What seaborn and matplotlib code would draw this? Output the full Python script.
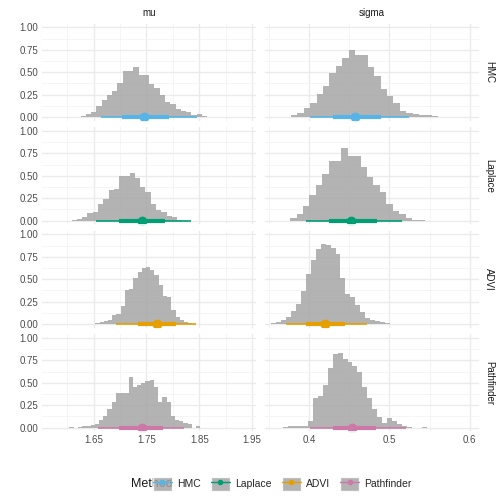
import numpy as np
import pandas as pd
import seaborn as sns
import matplotlib.pyplot as plt
from matplotlib.lines import Line2D
from matplotlib.patches import Patch
from matplotlib.ticker import MultipleLocator

methods = ['HMC', 'Laplace', 'ADVI', 'Pathfinder']
params = ['mu', 'sigma']
colors = {'HMC': '#56B4E9', 'Laplace': '#009E73', 'ADVI': '#E69F00', 'Pathfinder': '#CC79A7'}

# histogram bins: (first bin left edge, bin width, heights scaled to max 1)
hist_start = {
    ('HMC', 'mu'): 1.605, ('HMC', 'sigma'): 0.369,
    ('Laplace', 'mu'): 1.608, ('Laplace', 'sigma'): 0.376,
    ('ADVI', 'mu'): 1.637, ('ADVI', 'sigma'): 0.352,
    ('Pathfinder', 'mu'): 1.604, ('Pathfinder', 'sigma'): 0.367,
}
hist_width = {
    ('HMC', 'mu'): 0.01, ('HMC', 'sigma'): 0.008,
    ('Laplace', 'mu'): 0.01, ('Laplace', 'sigma'): 0.008,
    ('ADVI', 'mu'): 0.008, ('ADVI', 'sigma'): 0.0062,
    ('Pathfinder', 'mu'): 0.008, ('Pathfinder', 'sigma'): 0.0062,
}
hist_heights = {
    ('HMC', 'mu'): [0.005, 0.005, 0.01, 0.03, 0.06, 0.12, 0.19, 0.25, 0.29, 0.38, 0.51, 0.51, 0.56,
                    0.47, 0.47, 0.37, 0.33, 0.25, 0.17, 0.15, 0.09, 0.07, 0.06, 0.02, 0.03, 0.01, 0.005],
    ('HMC', 'sigma'): [0.005, 0.02, 0.04, 0.10, 0.16, 0.26, 0.35, 0.49, 0.57, 0.66, 0.75, 0.69, 0.69,
                       0.56, 0.46, 0.31, 0.24, 0.16, 0.07, 0.05, 0.03, 0.02, 0.02, 0.01],
    ('Laplace', 'mu'): [0.01, 0.02, 0.04, 0.08, 0.10, 0.18, 0.24, 0.34, 0.35, 0.50, 0.50, 0.53, 0.48,
                        0.38, 0.32, 0.18, 0.12, 0.09, 0.05, 0.04, 0.01],
    ('Laplace', 'sigma'): [0.03, 0.07, 0.16, 0.29, 0.40, 0.52, 0.67, 0.67, 0.81, 0.72, 0.72, 0.60, 0.49,
                           0.40, 0.32, 0.18, 0.11, 0.07, 0.03, 0.01, 0.01],
    ('ADVI', 'mu'): [0.005, 0.0, 0.01, 0.02, 0.03, 0.04, 0.10, 0.11, 0.20, 0.38, 0.39, 0.51, 0.58, 0.63,
                     0.64, 0.60, 0.55, 0.44, 0.31, 0.30, 0.16, 0.08, 0.04, 0.02, 0.01, 0.005],
    ('ADVI', 'sigma'): [0.01, 0.02, 0.04, 0.08, 0.14, 0.22, 0.37, 0.56, 0.72, 0.84, 0.89, 0.88, 0.85,
                        0.78, 0.51, 0.34, 0.30, 0.21, 0.13, 0.07, 0.04, 0.03, 0.02, 0.01],
    ('Pathfinder', 'mu'): [0.01, 0.0, 0.01, 0.02, 0.02, 0.03, 0.04, 0.08, 0.13, 0.21, 0.29, 0.38, 0.39,
                           0.39, 0.56, 0.45, 0.47, 0.50, 0.52, 0.53, 0.45, 0.28, 0.34, 0.29, 0.13, 0.08,
                           0.07, 0.05, 0.04, 0.0, 0.02],
    ('Pathfinder', 'sigma'): [0.01, 0.02, 0.02, 0.02, 0.02, 0.07, 0.33, 0.35, 0.47, 0.66, 0.82, 0.83,
                              0.77, 0.73, 0.69, 0.62, 0.45, 0.33, 0.21, 0.12, 0.05, 0.11, 0.07, 0.04,
                              0.02, 0.01, 0.0, 0.0, 0.005],
}

# point estimate, 50% and 95% intervals
point = {('HMC', 'mu'): 1.745, ('HMC', 'sigma'): 0.457, ('Laplace', 'mu'): 1.741, ('Laplace', 'sigma'): 0.452,
         ('ADVI', 'mu'): 1.769, ('ADVI', 'sigma'): 0.419, ('Pathfinder', 'mu'): 1.741, ('Pathfinder', 'sigma'): 0.453}
inner = {('HMC', 'mu'): (1.704, 1.793), ('HMC', 'sigma'): (0.429, 0.489),
         ('Laplace', 'mu'): (1.698, 1.786), ('Laplace', 'sigma'): (0.424, 0.484),
         ('ADVI', 'mu'): (1.733, 1.805), ('ADVI', 'sigma'): (0.396, 0.444),
         ('Pathfinder', 'mu'): (1.698, 1.781), ('Pathfinder', 'sigma'): (0.429, 0.483)}
outer = {('HMC', 'mu'): (1.663, 1.846), ('HMC', 'sigma'): (0.401, 0.524),
         ('Laplace', 'mu'): (1.654, 1.835), ('Laplace', 'sigma'): (0.396, 0.516),
         ('ADVI', 'mu'): (1.693, 1.843), ('ADVI', 'sigma'): (0.371, 0.472),
         ('Pathfinder', 'mu'): (1.659, 1.822), ('Pathfinder', 'sigma'): (0.401, 0.520)}

sns.set_theme(style='whitegrid', rc={'grid.color': '#ebebeb', 'axes.edgecolor': 'white'})
plt.rcParams['font.family'] = ['Liberation Sans', 'DejaVu Sans']

fig, axes = plt.subplots(4, 2, figsize=(5.04, 5.04), dpi=100, sharex='col', sharey=True)
fig.subplots_adjust(left=41/504, right=480/504, top=1-23/504, bottom=1-432/504, wspace=0.03, hspace=0.05)

for i, m in enumerate(methods):
    for j, p in enumerate(params):
        ax = axes[i, j]
        key = (m, p)
        h = np.array(hist_heights[key], dtype=float)
        edges = hist_start[key] + hist_width[key] * np.arange(len(h) + 1)
        df = pd.DataFrame({'x': (edges[:-1] + edges[1:]) / 2, 'w': h})
        sns.histplot(data=df, x='x', weights='w', bins=list(edges), ax=ax, color='#a6a6a6',
                     alpha=0.85, edgecolor='none', linewidth=0)
        c = colors[m]
        ax.plot(outer[key], [0, 0], color=c, lw=1.2, solid_capstyle='butt')
        ax.plot(inner[key], [0, 0], color=c, lw=3, solid_capstyle='butt')
        ax.plot([point[key]], [0], 'o', color=c, ms=6)
        ax.set_ylim(-0.05, 1.05)
        ax.set_yticks([0, 0.25, 0.5, 0.75, 1.0])
        ax.set_yticklabels(['0.00', '0.25', '0.50', '0.75', '1.00'])
        ax.yaxis.set_minor_locator(MultipleLocator(0.125))
        ax.set_ylabel('')
        ax.set_xlabel('')
        ax.grid(which='minor', color='#f2f2f2', lw=0.5)
        ax.grid(which='major', color='#ebebeb', lw=1)
        ax.tick_params(labelsize=7, colors='#4d4d4d', length=0, pad=2)
        if i == 0:
            ax.set_title(p, fontsize=7, color='#1a1a1a', pad=5)
        if j == 1:
            ax.text(1.02, 0.5, m, transform=ax.transAxes, rotation=-90, fontsize=7,
                    color='#1a1a1a', va='center', ha='left')

axes[0, 0].set_xlim(1.55, 1.96)
axes[0, 0].set_xticks([1.65, 1.75, 1.85, 1.95])
axes[0, 0].set_xticklabels(['1.65', '1.75', '1.85', '1.95'])
axes[0, 0].xaxis.set_minor_locator(MultipleLocator(0.05))
axes[0, 1].set_xlim(0.343, 0.613)
axes[0, 1].set_xticks([0.4, 0.5, 0.6])
axes[0, 1].set_xticklabels(['0.4', '0.5', '0.6'])
axes[0, 1].xaxis.set_minor_locator(MultipleLocator(0.05))

handles = [(Patch(facecolor='#a6a6a6', alpha=0.85),
            Line2D([], [], color=colors[m], marker='o', ms=3, lw=1)) for m in methods]
fig.legend(handles, methods, loc='center', bbox_to_anchor=(0.56, 1 - 484/504), ncol=4,
           frameon=False, fontsize=7.5, handlelength=1.8, handleheight=1.8,
           columnspacing=1.0, handletextpad=0.5)
fig.text(131/504, 1 - 484/504, 'Method', fontsize=9, color='#1a1a1a', ha='left', va='center')

fig.savefig('out.png', dpi=100)
